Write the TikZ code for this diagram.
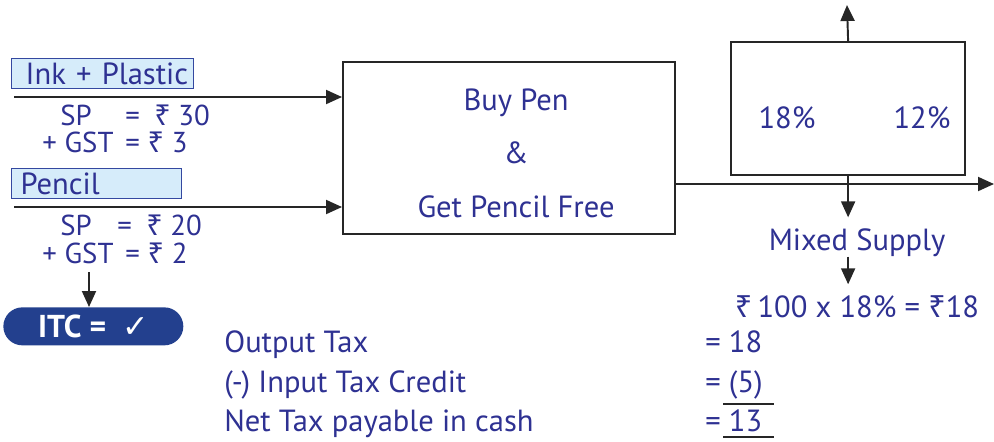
\documentclass[tikz,border=0pt]{standalone}
\usepackage{fontspec}
\setmainfont{PT Sans}
\newfontfamily\rupeefont{Noto Sans}
\newfontfamily\symfont{DejaVu Sans}
\usetikzlibrary{arrows.meta, positioning, calc}
\definecolor{TaxBlue}{RGB}{46,49,146}
\definecolor{BadgeBlue}{RGB}{35,64,142}
\definecolor{LabelFill}{RGB}{214,236,250}
\definecolor{LabelLine}{RGB}{52,72,160}
\newcommand{\rs}{{\rupeefont ₹}}

\begin{document}
\begin{tikzpicture}[x=0.02cm, y=-0.02cm,
	font=\fontsize{17.4}{20}\selectfont,
	txt/.style={text=TaxBlue, inner sep=0pt},
	amt/.style={txt, font=\fontsize{16.4}{18}\selectfont, anchor=base west},
	lbl/.style={draw=LabelLine, thick, fill=LabelFill, text=TaxBlue, minimum height=0.6cm, align=left, inner ysep=0pt, inner xsep=0.1cm, anchor=north west},
	bx/.style={draw=black!85, line width=1.3pt, inner sep=0pt, anchor=north west},
	badge/.style={fill=BadgeBlue, text=white, rounded corners=0.38cm, font=\fontsize{18}{20}\selectfont\bfseries, anchor=north west},
	fl/.style={-{Triangle[length=0.32cm, width=0.28cm]}, line width=1.1pt, black!85}]
	\useasboundingbox (0,0) rectangle (994,441);

	% --- inputs ---
	\node[lbl, minimum width=3.64cm, text width=3.44cm] (ink) at (11,58) {\hspace*{0.18cm}Ink + Plastic};
	\node[amt] (sp1) at (60,125) {SP};
	\node[amt] (sp1v) at (125,125) {=\enspace \rs\ 30};
	\node[amt] (gst1) at (42,152) {+ GST};
	\node[amt] (gst1v) at (125,152) {= \rs\ 3};

	\node[lbl, minimum width=3.4cm, text width=3.2cm] (pencil) at (11,168) {\hspace*{0.08cm}Pencil};
	\node[amt] (sp2) at (60,235) {SP};
	\node[amt] (sp2v) at (117,235) {=\enspace \rs\ 20};
	\node[amt] (gst2) at (42,263) {+ GST};
	\node[amt] (gst2v) at (125,263) {= \rs\ 2};

	\node[badge, minimum width=3.6cm, minimum height=0.76cm] (itc) at (3,307) {ITC =\enspace {\symfont ✓}};
	\coordinate (itcin) at (89,272);
	\draw[fl] (itcin) -- (itcin |- itc.north);

	% --- offer ---
	\node[bx, minimum width=6.64cm, minimum height=3.44cm] (offer) at (342,61) {};
	\node[txt, anchor=base] (buy) at (516,110) {Buy Pen};
	\node[txt, anchor=base] (amp) at (516,163) {\&};
	\node[txt, anchor=base] (free) at (516,217) {Get Pencil Free};
	\coordinate (in1) at (14,97);
	\coordinate (in2) at (14,207);
	\draw[fl] (in1) -- (in1 -| offer.west);
	\draw[fl] (in2) -- (in2 -| offer.west);
	\coordinate (out) at (994,184);
	\draw[fl] (offer.east |- out) -- (out);

	% --- rates ---
	\node[bx, minimum width=4.68cm, minimum height=2.66cm] (rates) at (730,41) {};
	\node[txt, anchor=base] (r18) at (787,128) {18\%};
	\node[txt, anchor=base] (r12) at (922,128) {12\%};
	\coordinate (up) at (847,5);
	\draw[fl] (rates.north) -- (up);
	\node[txt, anchor=base] (mixed) at (857,250) {Mixed Supply};
	\node[txt, anchor=base] (calc) at (857,317) {\rs\,100 x 18\% = \rs18};
	\draw[fl, shorten >=6pt] (rates.south) -- (rates.south |- mixed.north);
	\draw[fl, shorten >=6pt] (rates.south |- mixed.south) -- (rates.south |- calc.north);

	% --- net tax ---
	\node[txt, anchor=base west] (otax) at (224,352) {Output Tax};
	\node[txt, anchor=base west] (itax) at (224,392) {(-) Input Tax Credit};
	\node[txt, anchor=base west] (ntax) at (224,431) {Net Tax payable in cash};
	\node[txt, anchor=base west] (otaxv) at (705,352) {= 18};
	\node[txt, anchor=base west] (itaxv) at (705,392) {= (5)};
	\node[txt, anchor=base west] (ntaxv) at (705,431) {= 13};
	\draw[line width=1.3pt, black!85] (723,404) -- (774,404);
	\draw[line width=1.3pt, black!85] (723,437) -- (774,437);
\end{tikzpicture}
\end{document}
